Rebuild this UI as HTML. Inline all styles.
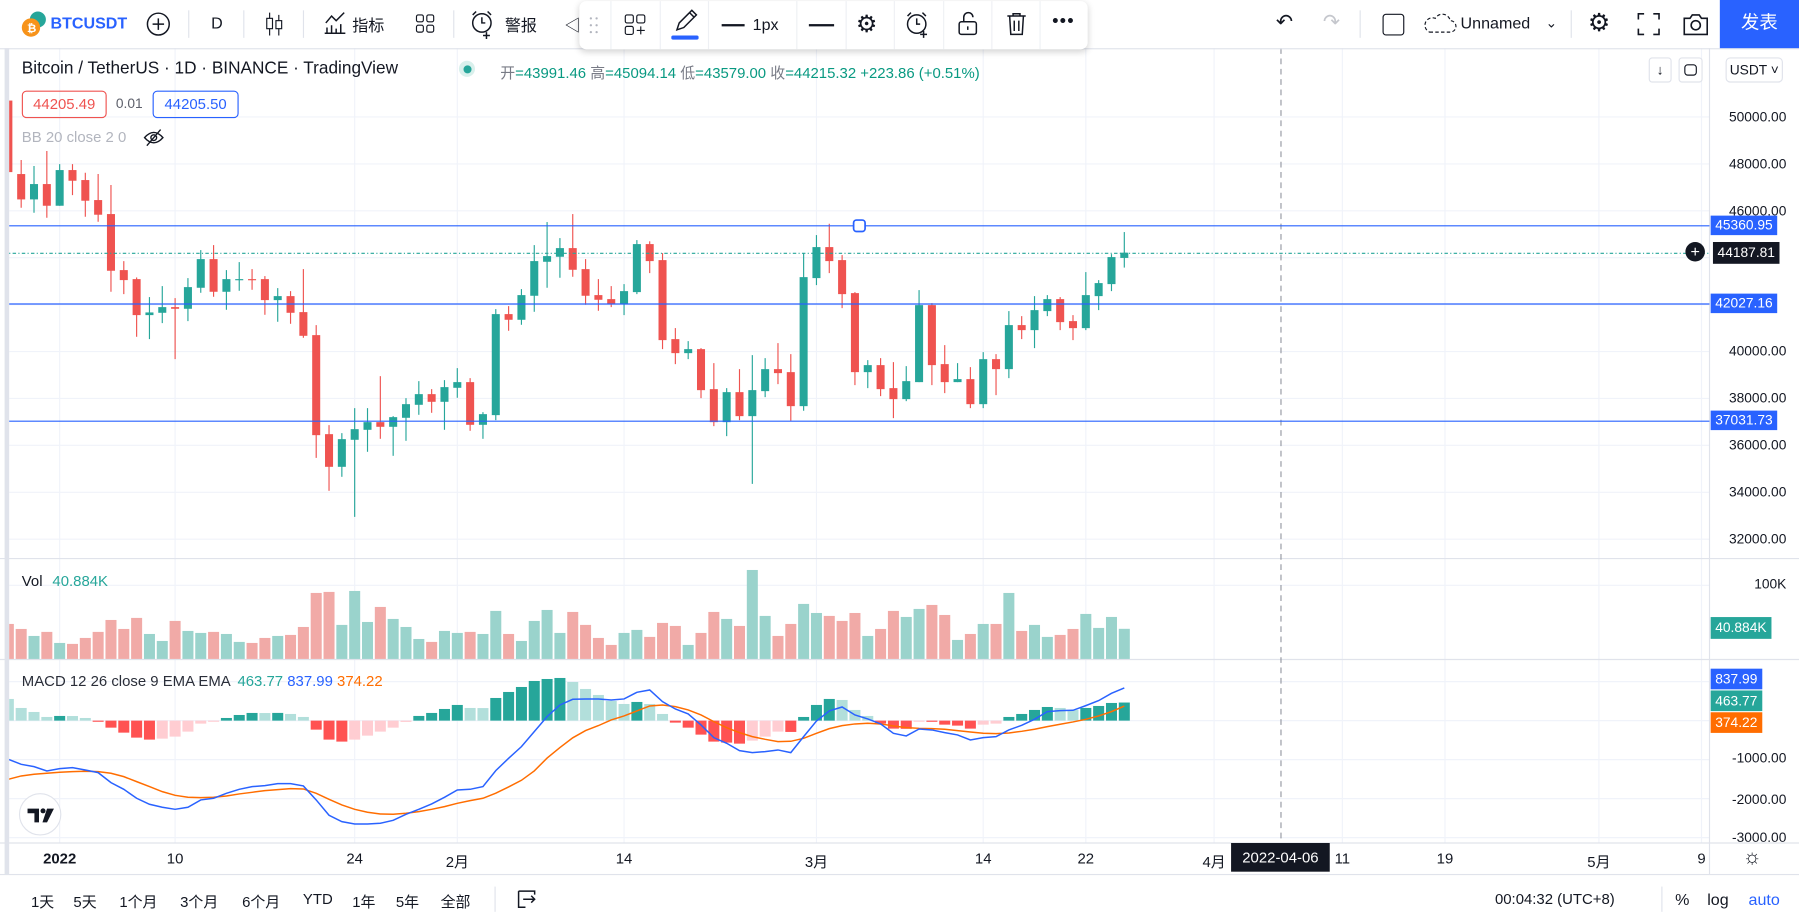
<!DOCTYPE html>
<html><head><meta charset="utf-8">
<style>
html,body{margin:0;padding:0;background:#fff;overflow:hidden;}
body{width:1799px;height:921px;}
#root{position:absolute;left:0;top:0;width:1568px;height:803px;transform:scale(1.14732,1.14695);transform-origin:0 0;font-family:"Liberation Sans","Noto Sans CJK SC",sans-serif;color:#131722;}
.a{position:absolute;white-space:nowrap;}
.ax{position:absolute;font-size:12px;color:#131722;right:11px;text-align:right;}
.box{position:absolute;font-size:12px;color:#fff;padding:0 4px;height:17px;line-height:17px;left:1491px;}
.tb{position:absolute;font-size:14px;top:12px;}
.bt{position:absolute;font-size:13px;top:776px;}
.sep{position:absolute;width:1px;background:#e0e3eb;}
</style></head>
<body>
<div id="root">
<svg id="chart" width="1568" height="803" style="position:absolute;left:0;top:0"></svg>

<!-- top toolbar -->
<div class="a" style="left:0;top:0;width:1568px;height:42px;border-bottom:1px solid #e0e3eb;"></div>
<svg class="a" style="left:16px;top:8px" width="26" height="26"><circle cx="17" cy="9" r="7" fill="#26a69a"/><circle cx="11" cy="16" r="8" fill="#f7931a"/><text x="7.5" y="20" font-size="10" fill="#fff" font-family="Liberation Sans" font-weight="bold">₿</text></svg>
<div class="tb" style="left:44px;color:#2962ff;font-weight:bold;">BTCUSDT</div>
<svg class="a" style="left:127px;top:10px" width="22" height="22"><circle cx="11" cy="11" r="9.5" fill="none" stroke="#131722" stroke-width="1.3"/><path d="M11 6v10M6 11h10" stroke="#131722" stroke-width="1.3"/></svg>
<div class="sep" style="left:164px;top:9px;height:24px"></div>
<div class="tb" style="left:184px;">D</div>
<div class="sep" style="left:212px;top:9px;height:24px"></div>
<svg class="a" style="left:229px;top:9px" width="20" height="24"><path d="M6 2v20M14 4v18" stroke="#131722"/><rect x="3.5" y="7" width="5" height="9" fill="#fff" stroke="#131722"/><rect x="11.5" y="9" width="5" height="7" fill="#fff" stroke="#131722"/></svg>
<div class="sep" style="left:264px;top:9px;height:24px"></div>
<svg class="a" style="left:281px;top:9px" width="22" height="22"><path d="M2 20h18M4 20v-5M8 20v-7M12 20v-4M16 20v-8M3 11l5-6 4 4 7-7" fill="none" stroke="#131722" stroke-width="1.3"/></svg>
<div class="tb" style="left:307px;">指标</div>
<svg class="a" style="left:361px;top:11px" width="20" height="20"><rect x="2" y="2" width="6" height="6" rx="1.5" fill="none" stroke="#131722"/><rect x="11" y="2" width="6" height="6" rx="1.5" fill="none" stroke="#131722"/><rect x="2" y="11" width="6" height="6" rx="1.5" fill="none" stroke="#131722"/><rect x="11" y="11" width="6" height="6" rx="1.5" fill="none" stroke="#131722"/></svg>
<div class="sep" style="left:395px;top:9px;height:24px"></div>
<svg class="a" style="left:409px;top:8px" width="24" height="26"><circle cx="11" cy="12" r="8" fill="none" stroke="#131722" stroke-width="1.3"/><path d="M11 7v5h3M3 5l3-3M19 5l-3-3M15 20v6M12 23h6" fill="none" stroke="#131722" stroke-width="1.3"/></svg>
<div class="tb" style="left:440px;">警报</div>
<div class="tb" style="left:492px;">◁</div>

<!-- floating drawing toolbar -->
<div class="a" style="left:505px;top:1px;width:443px;height:42px;background:#fff;border-radius:6px;box-shadow:0 2px 6px rgba(0,0,0,0.18);"></div>
<svg class="a" style="left:513px;top:13px" width="10" height="18"><g fill="#b2b5be"><circle cx="2" cy="3" r="1"/><circle cx="7" cy="3" r="1"/><circle cx="2" cy="9" r="1"/><circle cx="7" cy="9" r="1"/><circle cx="2" cy="15" r="1"/><circle cx="7" cy="15" r="1"/></g></svg>
<div class="sep" style="left:532px;top:1px;height:42px;background:#eef0f4"></div>
<svg class="a" style="left:544px;top:12px" width="20" height="20"><rect x="1" y="1" width="7" height="7" rx="1.5" fill="none" stroke="#131722"/><rect x="11" y="1" width="7" height="7" rx="1.5" fill="none" stroke="#131722"/><rect x="1" y="11" width="7" height="7" rx="1.5" fill="none" stroke="#131722"/><path d="M14.5 11v7M11 14.5h7" stroke="#131722"/></svg>
<div class="sep" style="left:575px;top:1px;height:42px;background:#eef0f4"></div>
<svg class="a" style="left:585px;top:6px" width="24" height="30"><path d="M5 20l2-6 11-11 4 4-11 11z M16 5l4 4" fill="none" stroke="#131722" stroke-width="1.3"/><rect x="0" y="25" width="24" height="3.5" rx="1.7" fill="#2962ff"/></svg>
<div class="sep" style="left:617px;top:1px;height:42px;background:#eef0f4"></div>
<div class="a" style="left:629px;top:13px;font-size:14px;"><span style="display:inline-block;width:20px;height:2px;background:#131722;vertical-align:middle;margin-right:7px"></span>1px</div>
<div class="sep" style="left:694px;top:1px;height:42px;background:#eef0f4"></div>
<div class="a" style="left:705px;top:21px;width:22px;height:1.5px;background:#131722"></div>
<div class="sep" style="left:737px;top:1px;height:42px;background:#eef0f4"></div>
<div class="a" style="left:746px;top:9px;font-size:21px;">⚙</div>
<div class="sep" style="left:779px;top:1px;height:42px;background:#eef0f4"></div>
<svg class="a" style="left:788px;top:9px" width="24" height="26"><circle cx="11" cy="12" r="8" fill="none" stroke="#131722" stroke-width="1.3"/><path d="M11 7v5h3M3 5l3-3M19 5l-3-3M17 18v6M14 21h6" fill="none" stroke="#131722" stroke-width="1.3"/></svg>
<div class="sep" style="left:822px;top:1px;height:42px;background:#eef0f4"></div>
<svg class="a" style="left:834px;top:10px" width="20" height="22"><rect x="2" y="9" width="15" height="11" rx="2" fill="none" stroke="#131722" stroke-width="1.3"/><path d="M6 9V5a4 4 0 0 1 8 0" fill="none" stroke="#131722" stroke-width="1.3"/><path d="M9.5 13v3" stroke="#131722" stroke-width="1.3"/></svg>
<div class="sep" style="left:864px;top:1px;height:42px;background:#eef0f4"></div>
<svg class="a" style="left:876px;top:10px" width="20" height="22"><path d="M2 4h16M7 4V2h6v2M4 4l1 16h10l1-16M8 8v9M12 8v9" fill="none" stroke="#131722" stroke-width="1.3"/></svg>
<div class="sep" style="left:906px;top:1px;height:42px;background:#eef0f4"></div>
<div class="a" style="left:917px;top:10px;font-size:16px;letter-spacing:1px;">•••</div>

<!-- right toolbar -->
<div class="a" style="left:1112px;top:9px;font-size:18px;">↶</div>
<div class="a" style="left:1153px;top:9px;font-size:18px;color:#c5c7cd">↷</div>
<div class="sep" style="left:1185px;top:9px;height:24px"></div>
<div class="a" style="left:1205px;top:12px;width:17px;height:17px;border:1.5px solid #131722;border-radius:3px;"></div>
<svg class="a" style="left:1240px;top:11px" width="30" height="20"><path d="M6 17h18a5 5 0 0 0 0-10 7 7 0 0 0-13-2 6 6 0 0 0-5 12z" fill="none" stroke="#131722" stroke-dasharray="3 2"/></svg>
<div class="tb" style="left:1273px;">Unnamed</div>
<div class="tb" style="left:1347px;font-size:12px;top:13px">⌄</div>
<div class="sep" style="left:1369px;top:9px;height:24px"></div>
<div class="a" style="left:1384px;top:7px;font-size:22px;">⚙</div>
<svg class="a" style="left:1427px;top:11px" width="20" height="20"><path d="M1 6V1h5M14 1h5v5M19 14v5h-5M6 19H1v-5" fill="none" stroke="#131722" stroke-width="1.4"/></svg>
<svg class="a" style="left:1466px;top:10px" width="24" height="22"><path d="M2 6h5l2-3h6l2 3h5v14H2z" fill="none" stroke="#131722" stroke-width="1.4"/><circle cx="12" cy="12" r="4" fill="none" stroke="#131722" stroke-width="1.4"/></svg>
<div class="a" style="left:1499px;top:0;width:69px;height:42px;background:#2962ff;color:#fff;font-size:16px;line-height:42px;text-align:center;">发表</div>

<!-- legend -->
<div class="a" style="left:19px;top:51px;font-size:15px;">Bitcoin / TetherUS · 1D · BINANCE · TradingView</div>
<div class="a" style="left:400px;top:53px;width:14px;height:14px;border-radius:7px;background:#d9f0ec;"><div style="position:absolute;left:3.5px;top:3.5px;width:7px;height:7px;border-radius:4px;background:#26a69a"></div></div>
<div class="a" style="left:436px;top:53px;font-size:13px;color:#787b86;">开<span style="color:#089981">=43991.46</span> 高<span style="color:#089981">=45094.14</span> 低<span style="color:#089981">=43579.00</span> 收<span style="color:#089981">=44215.32</span> <span style="color:#089981">+223.86 (+0.51%)</span></div>
<div class="a" style="left:19px;top:79px;width:72px;height:22px;border:1px solid #ef5350;border-radius:4px;color:#ef5350;font-size:13px;line-height:22px;text-align:center;">44205.49</div>
<div class="a" style="left:101px;top:83px;font-size:12px;color:#5d606b">0.01</div>
<div class="a" style="left:133px;top:79px;width:73px;height:22px;border:1px solid #2962ff;border-radius:4px;color:#2962ff;font-size:13px;line-height:22px;text-align:center;">44205.50</div>
<div class="a" style="left:19px;top:112px;font-size:13px;color:#b2b5be;">BB 20 close 2 0</div>
<svg class="a" style="left:124px;top:112px" width="20" height="16"><path d="M2 8q8-9 16 0q-8 9-16 0z" fill="none" stroke="#131722" stroke-width="1.2"/><circle cx="10" cy="8" r="2.5" fill="none" stroke="#131722" stroke-width="1.2"/><path d="M4 15L16 1" stroke="#131722" stroke-width="1.2"/></svg>
<div class="a" style="left:1437px;top:50px;width:18px;height:20px;border:1px solid #e0e3eb;border-radius:3px;font-size:12px;text-align:center;line-height:20px;background:#fff">↓</div>
<div class="a" style="left:1463px;top:50px;width:19px;height:20px;border:1px solid #e0e3eb;border-radius:3px;background:#fff"><div style="position:absolute;left:4px;top:5px;width:9px;height:8px;border:1.3px solid #131722;border-radius:3px"></div></div>
<div class="a" style="left:1504px;top:50px;width:48px;height:20px;border:1px solid #e0e3eb;border-radius:4px;font-size:12px;line-height:20px;text-align:center;background:#fff">USDT ˅</div>

<div class="a" style="left:19px;top:499px;font-size:13px;">Vol <span style="color:#26a69a;margin-left:5px">40.884K</span></div>
<div class="a" style="left:19px;top:586px;font-size:13px;color:#2a2e39">MACD 12 26 close 9 EMA EMA <span style="color:#26a69a;margin-left:3px">463.77</span> <span style="color:#2962ff">837.99</span> <span style="color:#ff6d00">374.22</span></div>

<svg class="a" style="left:15px;top:690px" width="40" height="40"><circle cx="20" cy="20" r="18" fill="#fff" stroke="#e0e3eb"/><path d="M9 15h10v12h-4v-8H9z" fill="#131722"/><circle cx="22.5" cy="17" r="2.2" fill="#131722"/><path d="M26 15h6l-6 12h-4z" fill="#131722"/></svg>

<!-- price axis labels -->
<div id="axis" class="a" style="left:1491px;top:42px;width:77px;height:693px;"></div>
<div class="ax" style="top:502px;">100K</div>
<div class="ax" style="top:654px;">-1000.00</div>
<div class="ax" style="top:690px;">-2000.00</div>
<div class="ax" style="top:723px;height:11px;overflow:hidden;">-3000.00</div>

<div class="box" style="top:188px;background:#2962ff">45360.95</div>
<div class="box" style="top:211px;background:#131722;height:19px;line-height:19px;left:1493px">44187.81</div>
<div class="a" style="left:1469px;top:211px;width:17px;height:17px;border-radius:9px;background:#131722;color:#fff;font-size:14px;line-height:16px;text-align:center">+</div>
<div class="box" style="top:256px;background:#2962ff">42027.16</div>
<div class="box" style="top:358px;background:#2962ff">37031.73</div>
<div class="box" style="top:538px;background:#26a69a;height:19px;line-height:19px">40.884K</div>
<div class="box" style="top:583px;background:#2962ff;height:18px;line-height:18px">837.99</div>
<div class="box" style="top:602px;background:#26a69a;height:18px;line-height:18px">463.77</div>
<div class="box" style="top:621px;background:#ff6d00;height:18px;line-height:18px">374.22</div>

<div id="taxis" class="a" style="left:0;top:735px;width:1490px;height:27px;"></div>
<div class="a" style="left:1073px;top:735px;width:86px;height:25px;background:#131722;color:#fff;font-size:13px;line-height:25px;text-align:center">2022-04-06</div>
<div class="a" style="left:1519px;top:737px;font-size:18px;">☼</div>

<!-- bottom bar -->
<div class="a" style="left:0;top:762px;width:1568px;height:41px;border-top:1px solid #e0e3eb"></div>
<div class="bt" style="left:27px">1天</div>
<div class="bt" style="left:64px">5天</div>
<div class="bt" style="left:104px">1个月</div>
<div class="bt" style="left:157px">3个月</div>
<div class="bt" style="left:211px">6个月</div>
<div class="bt" style="left:264px">YTD</div>
<div class="bt" style="left:307px">1年</div>
<div class="bt" style="left:345px">5年</div>
<div class="bt" style="left:384px">全部</div>
<div class="sep" style="left:431px;top:773px;height:22px"></div>
<svg class="a" style="left:450px;top:775px" width="20" height="18"><path d="M2 2h14v3M2 2v14h6M6 9h10M13 6l3 3-3 3" fill="none" stroke="#131722" stroke-width="1.3"/></svg>
<div class="bt" style="left:1303px">00:04:32 (UTC+8)</div>
<div class="sep" style="left:1448px;top:773px;height:22px"></div>
<div class="bt" style="left:1460px;font-size:14px">%</div>
<div class="bt" style="left:1488px;font-size:14px">log</div>
<div class="bt" style="left:1524px;font-size:14px;color:#2962ff">auto</div>
</div>

<script>
const days=[];for(let d=-4;d<=83;d++)days.push(d);
const openVals=[50700,47567,46486,47140,46216,47737,47311,46458,45861,43472,43088,41553,41652,41894,41823,42719,43941,42548,43060,43088,43088,42193,42363,41681,40700,36478,35085,36237,36663,36990,36791,37175,37729,38184,37857,38454,38696,36876,37289,41596,41354,42378,43827,44041,44410,43514,42406,42235,42036,42534,44581,43898,40530,39932,40103,38397,36990,38269,37246,38312,39250,39122,37672,43131,44453,43898,42491,39122,39421,38440,37971,38696,41979,39464,38696,38824,37757,39676,39250,41127,40913,41724,42235,41297,40998,42363,42875,43991];
const highVals=[51000,48164,47908,48548,47993,47993,47624,47567,47098,43856,43159,42321,42790,42278,43131,44325,44538,43472,43813,43515,43216,42704,42576,43515,41127,36862,36521,37587,37587,38951,37246,38013,38738,38397,38781,39293,38866,37416,41809,41937,42662,44538,45520,44837,45861,43941,43088,42790,42875,44751,44700,44197,41000,40444,40146,39506,38440,39250,39847,39719,40359,39890,44197,44965,45448,44112,42534,39634,39719,39549,39378,42619,42065,40274,39506,39335,39975,39890,41724,41510,42363,42406,42321,41553,43387,43045,44154,45094];
const lowVals=[47400,46131,45918,45705,46216,46671,45747,45534,42548,42448,40629,40530,41212,39677,41297,42505,42335,41780,42591,42633,41567,41269,41183,40586,35469,34062,34659,32953,35725,36279,35554,36194,37303,37388,36663,38028,36620,36279,37075,40885,41141,41695,42719,43145,43188,41993,41738,41894,41553,42448,43344,40103,39463,39677,38013,36819,36393,37075,34360,38056,38610,37047,37473,42832,43344,41851,38568,38440,38099,37161,37885,38696,38568,38227,38696,37587,37587,38141,38866,40530,40146,41510,40913,40487,40913,41766,42576,43579];
const closeVals=[47650,46486,47140,46216,47737,47282,46430,45833,43444,43046,41553,41667,41894,41823,42747,43941,42548,43088,43088,43045,42193,42363,41652,40671,36435,35085,36265,36691,36990,36791,37203,37757,38184,37857,38483,38696,36876,37331,41596,41354,42406,43856,44069,44410,43486,42378,42207,42036,42576,44581,43856,40487,39932,40103,38354,36990,38269,37246,38355,39250,39080,37672,43173,44453,43856,42448,39122,39421,38397,37971,38738,41979,39421,38696,38824,37757,39676,39250,41127,40913,41766,42235,41254,40998,42406,42918,44027,44215];
const volumeK=[47.5,40.7,31.2,36.7,21.7,20.4,28.5,36.7,52.9,40.7,55.7,33.9,24.4,51.6,38,35.3,36.7,33.9,23.1,21.7,28.5,31.2,32.6,43.4,89.6,91,46.2,92.3,50.2,70.6,54.3,43.4,27.1,23.1,38,35.3,36.7,33.9,65.2,33.9,24.4,51.6,66.5,35.3,63.8,46.2,28.5,19,35.3,39.4,29.9,48.9,44.8,19,35.3,63.8,54.3,44.8,120.8,58.4,31.2,47.5,74.7,62.4,58.4,51.6,62.4,31.2,40.7,65.2,57,67.9,73.3,59.7,25.8,33.9,47.5,47.5,89.6,38,46.2,29.9,32.6,40.7,61.1,42.1,57,40.884];
const macdHist=[556,325,222,94,120,118,68,-17,-180,-308,-436,-487,-462,-410,-282,-77,-26,68,145,197,195,198,171,94,-231,-487,-538,-487,-385,-282,-180,-34,120,197,299,402,325,322,581,735,863,1017,1068,1094,991,812,658,504,427,479,427,171,-51,-180,-359,-538,-564,-590,-513,-410,-282,-290,94,402,556,530,274,120,-77,-205,-210,-26,-30,-103,-128,-205,-103,-77,94,171,274,350,325,274,325,376,453,464];
const macdLine=[-991,-1120,-1180,-1291,-1231,-1205,-1265,-1333,-1590,-1761,-1991,-2145,-2222,-2274,-2222,-2034,-1991,-1863,-1761,-1692,-1667,-1615,-1615,-1675,-2034,-2427,-2590,-2650,-2650,-2632,-2556,-2402,-2274,-2137,-1966,-1778,-1761,-1692,-1282,-966,-667,-282,103,402,547,556,556,530,556,726,786,487,299,171,-111,-436,-581,-769,-821,-795,-752,-821,-410,-9,248,350,145,43,-85,-325,-393,-214,-239,-308,-367,-496,-436,-410,-239,-120,34,231,256,265,385,513,701,838];
const signalLine=[-1504,-1419,-1376,-1350,-1325,-1308,-1299,-1308,-1350,-1436,-1564,-1692,-1821,-1915,-1966,-1974,-1966,-1932,-1880,-1838,-1795,-1769,-1744,-1752,-1863,-2017,-2162,-2274,-2350,-2393,-2402,-2376,-2333,-2274,-2205,-2120,-2051,-1991,-1860,-1700,-1530,-1290,-960,-690,-440,-256,-128,17,120,248,376,402,359,274,145,-26,-180,-308,-410,-479,-538,-530,-453,-325,-205,-128,-85,-68,-85,-137,-180,-197,-205,-222,-256,-291,-325,-333,-316,-274,-222,-154,-94,-34,34,120,231,374];
const priceTicks=[32000,34000,36000,38000,40000,46000,48000,50000];
const gridPrices=[32000,34000,36000,38000,40000,42000,44000,46000,48000,50000];
const horizontalLevels=[45360.95,42027.16,37031.73];
const lastPrice=44187.81;
const dateTickDays=[0,9,23,31,44,59,72,80,90,100,108,120,128];
const dateTickLabels=["2022","10","24","2月","14","3月","14","22","4月","11","19","5月","9"];
const macdTicks=[1000,0,-1000,-2000,-3000];

const NS="http://www.w3.org/2000/svg";
const svg=document.getElementById('chart');
const X0=52, DX=11.18;
function xS(d){return X0+DX*d;}
function yP(p){return 102+(50000-p)/48.9;}
function yV(v){return 574.5-v*0.642;}
function yM(m){return 628.3-m*0.034;}
function mk(tag,attrs,parent){const e=document.createElementNS(NS,tag);for(const k in attrs)e.setAttribute(k,attrs[k]);(parent||svg).appendChild(e);return e;}

// clip paths
const defs=mk('defs',{});
[['cp-main',42,445],['cp-vol',487,88],['cp-macd',575,160]].forEach(c=>{const cp=mk('clipPath',{id:c[0]},defs);mk('rect',{x:8,y:c[1],width:1482,height:c[2]},cp);});

const grid=mk('g',{});


dateTickDays.forEach(d=>{const l=mk('line',{x1:xS(d),x2:xS(d),y1:42,y2:735,stroke:'#f0f3fa'},grid);});
gridPrices.forEach(p=>{const l=mk('line',{x1:8,x2:1490,y1:yP(p),y2:yP(p),stroke:'#f0f3fa'},grid);});
mk('line',{x1:8,x2:1490,y1:yV(100),y2:yV(100),stroke:'#f0f3fa'},grid);
macdTicks.forEach(m=>{const l=mk('line',{x1:8,x2:1490,y1:yM(m),y2:yM(m),stroke:'#f0f3fa'},grid);});

// frame lines
[[0,487,1568,487],[0,575,1568,575],[0,735,1568,735],[1490,42,1490,762]].forEach(a=>mk('line',{x1:a[0],y1:a[1],x2:a[2],y2:a[3],stroke:'#e0e3eb'}));
mk('rect',{x:4,y:42,width:4,height:720,fill:'#e0e3eb'});

// crosshair
const ch=mk('line',{x1:1116.5,x2:1116.5,y1:42,y2:735,stroke:'#9598a1','stroke-dasharray':'5 4'});



// candles
const cg=mk('g',{'clip-path':'url(#cp-main)'});


days.forEach((d,i)=>{
  const up=closeVals[i]>=openVals[i];const col=up?'#26a69a':'#ef5350';const x=xS(d);
  const g=mk('g',{},cg);
  
  
  mk('line',{x1:x,x2:x,y1:yP(highVals[i]),y2:yP(lowVals[i]),stroke:col,'stroke-width':1},g);
  const t=yP(Math.max(openVals[i],closeVals[i])),b=yP(Math.min(openVals[i],closeVals[i]));
  mk('rect',{x:x-3.5,y:t,width:7,height:Math.max(1,b-t),fill:col},g);
});

// horizontal lines
horizontalLevels.forEach(p=>{const l=mk('line',{x1:8,x2:1490,y1:yP(p),y2:yP(p),stroke:'#2962ff','stroke-width':1});});
const hd=mk('rect',{x:744,y:yP(horizontalLevels[0])-5,width:10,height:10,rx:2.5,fill:'#fff',stroke:'#2962ff','stroke-width':1.5});


const lp=mk('line',{x1:8,x2:1490,y1:yP(lastPrice),y2:yP(lastPrice),stroke:'#26a69a','stroke-dasharray':'1 2 3 2'});



// volume
const vg=mk('g',{'clip-path':'url(#cp-vol)'});


days.forEach((d,i)=>{const up=closeVals[i]>=openVals[i];const y=yV(volumeK[i]);
  const r=mk('rect',{x:xS(d)-4.8,y:y,width:9.6,height:574.5-y,fill:up?'#9ad3cc':'#f1aaa7'},vg);
  
  });

// macd
const mg=mk('g',{'clip-path':'url(#cp-macd)'});


days.forEach((d,i)=>{const v=macdHist[i];const prev=i>0?macdHist[i-1]:v;
  let col;if(v>=0)col=v>prev?'#26a69a':'#b2dfdb';else col=v<prev?'#ff5252':'#ffcdd2';
  const y0=yM(0),y1=yM(v);
  const r=mk('rect',{x:xS(d)-4.8,y:Math.min(y0,y1),width:9.6,height:Math.max(1,Math.abs(y1-y0)),fill:col},mg);
  
  });
const sp=mk('polyline',{points:days.map((d,i)=>xS(d)+','+yM(signalLine[i])).join(' '),fill:'none',stroke:'#ff6d00','stroke-width':1.3},mg);


const mp=mk('polyline',{points:days.map((d,i)=>xS(d)+','+yM(macdLine[i])).join(' '),fill:'none',stroke:'#2962ff','stroke-width':1.3},mg);



// axis labels
const root=document.getElementById('root');
priceTicks.forEach(p=>{const e=document.createElement('div');e.className='ax';e.style.top=(yP(p)-7)+'px';e.textContent=p.toFixed(2);
  
  
  root.insertBefore(e,document.getElementById('axis'));});
dateTickDays.forEach((d,i)=>{const e=document.createElement('div');e.className='a';e.style.cssText='top:741px;font-size:13px;transform:translateX(-50%);left:'+xS(d)+'px;'+(i===0?'font-weight:bold;':'');e.textContent=dateTickLabels[i];
  
  
  root.insertBefore(e,document.getElementById('taxis'));});
</script>
</body></html>
